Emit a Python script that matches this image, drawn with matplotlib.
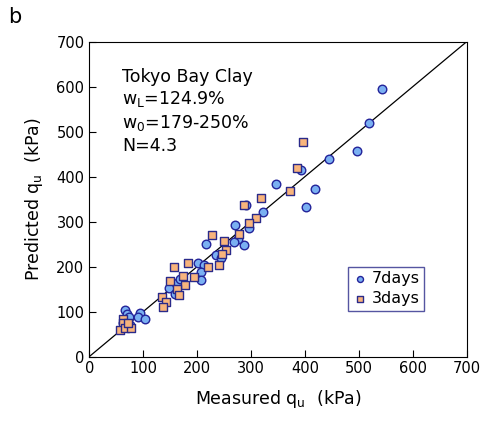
import numpy as np
import matplotlib.pyplot as plt

# measured vs predicted qu (kPa)
meas_7d = [544, 519, 497, 445, 392, 419, 403, 347, 323, 296, 290, 271, 287, 276, 268,
           216, 201, 213, 208, 208, 235, 244, 148, 159, 162, 168,
           66, 70, 74, 95, 90, 103, 63, 75]
pred_7d = [596, 520, 458, 439, 416, 373, 333, 384, 321, 286, 337, 293, 249, 261, 255,
           251, 209, 204, 187, 170, 227, 219, 153, 139, 163, 173,
           103, 94, 87, 96, 87, 83, 74, 70]

meas_3d = [396, 385, 373, 319, 287, 310, 296, 278, 227, 250, 253, 247, 240, 221, 195,
           183, 158, 173, 177, 150, 162, 167, 134, 142, 136, 62, 62, 57, 66, 77, 72]
pred_3d = [478, 419, 368, 353, 336, 309, 296, 273, 270, 258, 237, 229, 204, 199, 178,
           209, 199, 180, 159, 167, 150, 136, 133, 122, 111, 83, 74, 59, 64, 64, 74]

ticks = [0, 100, 200, 300, 400, 500, 600, 700]

fig = plt.figure(figsize=(4.8, 4.22), dpi=100)
ax = fig.add_axes([0.186, 0.155, 0.786, 0.746])

ax.plot([0, 700], [0, 700], color="black", linewidth=0.9, zorder=1)
ax.scatter(meas_7d, pred_7d, s=38, marker="o", facecolor="#7ab0f2",
           edgecolor="#23239a", linewidth=1.0, label="7days", zorder=3)
ax.scatter(meas_3d, pred_3d, s=38, marker="s", facecolor="#f8b47c",
           edgecolor="#2a2a8a", linewidth=1.0, label="3days", zorder=4)

ax.set_xlim(0, 700)
ax.set_ylim(0, 700)
ax.set_xticks(ticks)
ax.set_yticks(ticks)
ax.tick_params(direction="in", length=5, labelsize=10.5, top=False, right=False)
ax.set_xlabel("Measured q$_\\mathregular{u}$  (kPa)", fontsize=12.5, labelpad=8)
ax.set_ylabel("Predicted q$_\\mathregular{u}$  (kPa)", fontsize=12.5, labelpad=8)

ax.text(0.088, 0.918, "Tokyo Bay Clay\nw$_\\mathregular{L}$=124.9%\nw$_\\mathregular{0}$=179-250%\nN=4.3",
        transform=ax.transAxes, ha="left", va="top", fontsize=12.5, linespacing=1.25)

leg = ax.legend(loc="lower left", bbox_to_anchor=(0.685, 0.145), fontsize=11.5,
                frameon=True, fancybox=False, markerscale=0.7, handletextpad=0.2,
                borderpad=0.3, handlelength=1.0, labelspacing=0.3, borderaxespad=0)
leg.get_frame().set_edgecolor("#2a2a8a")
leg.get_frame().set_linewidth(1.0)

fig.text(0.017, 0.945, "b", fontsize=15)

fig.savefig("out.png", dpi=100)
